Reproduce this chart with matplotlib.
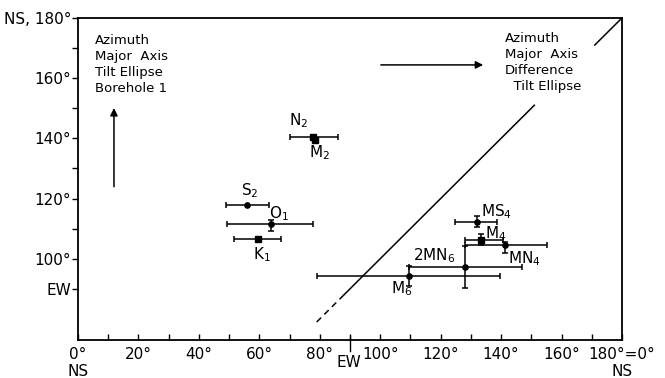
import matplotlib
matplotlib.use("Agg")
import matplotlib.pyplot as plt
import numpy as np

# tidal constituents: azimuth of difference ellipse (x) vs borehole ellipse (y), degrees
names = ['S$_2$', 'O$_1$', 'K$_1$', 'N$_2$', 'M$_2$', 'MS$_4$', 'M$_4$', 'MN$_4$', '2MN$_6$', 'M$_6$']
x_val = [55.9, 63.9, 59.6, 77.7, 78.3, 132.0, 133.4, 141.3, 128.1, 109.5]
y_val = [117.9, 111.6, 106.6, 140.3, 139.3, 112.3, 106.3, 104.6, 97.3, 94.4]
x_lo = [49.0, 49.3, 51.6, 70.2, np.nan, 124.8, 128.1, 128.1, 109.5, 79.2]
x_hi = [63.3, 77.8, 67.2, 86.0, np.nan, 138.6, 140.6, 155.2, 146.9, 139.6]
y_lo = [np.nan, 109.3, np.nan, np.nan, 138.4, 110.6, 104.6, 102.0, 90.4, 91.0]
y_hi = [np.nan, 113.0, np.nan, np.nan, 140.2, 114.3, 108.3, 105.6, 104.3, 97.7]

# marker shape and label offset (pixels, label left/baseline relative to point)
markers = ['o', 'o', 's', 's', 's', 'o', 's', 'o', 'o', 'o']
label_off = [(-6, 10), (-2, 6), (-5, -20), (-24, 12), (-6, -17),
             (4, 5), (4, 1), (3, -18), (-52, 7), (-18, -18)]

# reference line y = x : dashed start, solid pieces (gap behind the text)
diag_dashed = (79, 88)
diag_solid = [(88, 151), (171, 180)]

yticks = [90, 100, 120, 140, 160, 180]
yticklabels = ['EW', '100°', '120°', '140°', '160°', 'NS, 180°']
xticks = [0, 20, 40, 60, 80, 100, 120, 140, 160, 180]
xticklabels = ['0°\nNS', '20°', '40°', '60°', '80°', '100°', '120°', '140°', '160°', '180°=0°\nNS']

plt.rcParams['font.family'] = ['DejaVu Sans']

fig = plt.figure(figsize=(6.65, 3.78), dpi=100)
ax = fig.add_axes([0.1173, 0.1005, 0.818, 0.852])
ax.set_xlim(0, 180)
ax.set_ylim(73, 180)

for i in range(len(names)):
    xe = None
    if not np.isnan(x_lo[i]):
        xe = [[x_val[i] - x_lo[i]], [x_hi[i] - x_val[i]]]
    ye = None
    if not np.isnan(y_lo[i]):
        ye = [[y_val[i] - y_lo[i]], [y_hi[i] - y_val[i]]]
    ax.errorbar([x_val[i]], [y_val[i]], xerr=xe, yerr=ye, fmt=markers[i], color='k',
                ms=3.8, elinewidth=1.1, capsize=2.5, capthick=1.1)
    ax.annotate(names[i], (x_val[i], y_val[i]), xytext=label_off[i], textcoords='offset pixels',
                ha='left', va='baseline', fontsize=11)

d = np.array(diag_dashed)
ax.plot(d, d, color='k', lw=1.1, ls=(0, (4, 3)))
for a, b in diag_solid:
    ax.plot([a, b], [a, b], color='k', lw=1.1, clip_on=False)

ax.annotate('', xy=(11.9, 151), xytext=(11.9, 123),
            arrowprops=dict(arrowstyle='-|>', color='k', lw=1.1, mutation_scale=11))
ax.annotate('', xy=(135, 164.4), xytext=(99.3, 164.4),
            arrowprops=dict(arrowstyle='-|>', color='k', lw=1.1, mutation_scale=11))

ax.text(5.6, 174.6, 'Azimuth\nMajor  Axis\nTilt Ellipse\nBorehole 1', ha='left', va='top',
        fontsize=9.5, linespacing=1.3)
ax.text(141.3, 175.2, 'Azimuth\nMajor  Axis\nDifference\n  Tilt Ellipse', ha='left', va='top',
        fontsize=9.5, linespacing=1.3)

ax.set_yticks(yticks)
ax.set_yticklabels(yticklabels)
ax.set_yticks([110, 130, 150, 170], minor=True)
ax.tick_params(axis='y', which='both', direction='out', length=4, width=1, labelsize=11, pad=1)

ax.set_xticks(xticks)
ax.set_xticklabels(xticklabels)
ax.set_xticks([10, 30, 50, 70, 90, 110, 130, 150, 170], minor=True)
ax.tick_params(axis='x', which='both', direction='in', length=4, width=1, labelsize=11, pad=5)

# longer EW tick at 90 deg and its label
ax.plot([90, 90], [-0.035, 0.01], color='k', lw=1, transform=ax.get_xaxis_transform(), clip_on=False)
ax.annotate('EW', (90, 0), xycoords=('data', 'axes fraction'), xytext=(-1, -22),
            textcoords='offset pixels', ha='center', va='center', fontsize=11)

for s in ax.spines.values():
    s.set_linewidth(1.3)

fig.savefig('out.png', dpi=100)
